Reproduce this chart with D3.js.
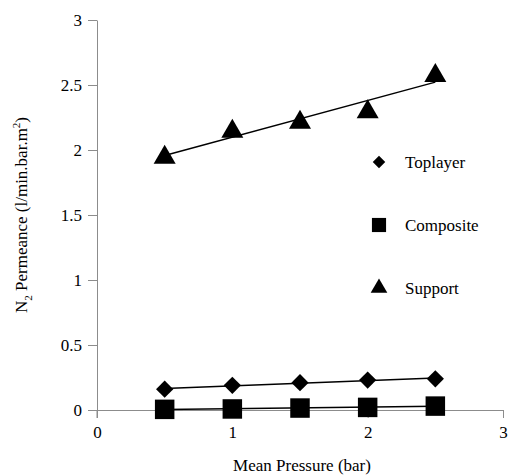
<!DOCTYPE html>
<html>
<head>
<meta charset="utf-8">
<script src="https://cdn.jsdelivr.net/npm/d3@7"></script>
</head>
<body style="margin:0">
<script>
const pressure = [0.5, 1, 1.5, 2, 2.5];
const toplayer = [0.16, 0.19, 0.21, 0.23, 0.24];
const composite = [0.005, 0.008, 0.015, 0.02, 0.03];
const support = [1.95, 2.15, 2.22, 2.30, 2.58];
const seriesNames = ['Toplayer', 'Composite', 'Support'];
const xTicks = [0, 1, 2, 3];
const yTicks = [0, 0.5, 1, 1.5, 2, 2.5, 3];

const FONT = 'Liberation Serif';
const width = 508, height = 476;
const margin = {top: 20, right: 5, bottom: 66, left: 97};

const svg = d3.select('body').append('svg')
    .attr('width', width)
    .attr('height', height)
    .style('display', 'block')
    .style('font-family', FONT);

const x = d3.scaleLinear().domain([0, 3]).range([margin.left, width - margin.right]);
const y = d3.scaleLinear().domain([0, 3]).range([height - margin.bottom, margin.top]);

// axes
svg.append('g')
    .attr('transform', `translate(0,${y(0)})`)
    .call(d3.axisBottom(x).tickValues(xTicks).tickFormat(d3.format('')).tickSize(8).tickSizeOuter(0).tickPadding(8))
    .call(g => g.attr('font-family', FONT))
    .call(g => g.selectAll('path, line').attr('stroke', '#8c8c8c'))
    .call(g => g.selectAll('text').attr('font-size', 17).style('font-family', FONT).attr('fill', '#000'));

svg.append('g')
    .attr('transform', `translate(${x(0)},0)`)
    .call(d3.axisLeft(y).tickValues(yTicks).tickFormat(d3.format('')).tickSize(9).tickSizeOuter(0).tickPadding(6))
    .call(g => g.attr('font-family', FONT))
    .call(g => g.selectAll('path, line').attr('stroke', '#8c8c8c'))
    .call(g => g.selectAll('text').attr('font-size', 17).style('font-family', FONT).attr('fill', '#000'));

// y axis runs a little below zero in the original
svg.append('line')
    .attr('x1', x(0)).attr('x2', x(0))
    .attr('y1', y(0)).attr('y2', y(0) + 8)
    .attr('stroke', '#8c8c8c');

// axis titles
svg.append('text')
    .attr('x', (x(0) + x(3)) / 2 + 2)
    .attr('y', height - 5)
    .attr('text-anchor', 'middle')
    .style('font-family', FONT)
    .attr('font-size', 17)
    .text('Mean Pressure (bar)');

const yt = svg.append('text')
    .attr('transform', `translate(27,${(y(0) + y(3)) / 2}) rotate(-90)`)
    .attr('text-anchor', 'middle')
    .style('font-family', FONT)
    .attr('font-size', 17);
yt.append('tspan').text('N');
yt.append('tspan').attr('font-size', 11).attr('dy', 5).text('2');
yt.append('tspan').attr('dy', -5).text(' Permeance (l/min.bar.m');
yt.append('tspan').attr('font-size', 11).attr('dy', -7).text('2');
yt.append('tspan').attr('dy', 7).text(')');

// trendlines (least squares fit)
function fit(ys) {
    const mx = d3.mean(pressure), my = d3.mean(ys);
    const b = d3.sum(pressure, (p, i) => (p - mx) * (ys[i] - my)) / d3.sum(pressure, p => (p - mx) ** 2);
    return p => my + b * (p - mx);
}

const data = [toplayer, composite, support];
const symbols = [d3.symbolDiamond2, d3.symbolSquare, d3.symbolTriangle];
const sizes = [190, 380, 210];

data.forEach(ys => {
    const f = fit(ys);
    const ends = [pressure[0], pressure[pressure.length - 1]];
    svg.append('line')
        .attr('x1', x(ends[0])).attr('y1', y(f(ends[0])))
        .attr('x2', x(ends[1])).attr('y2', y(f(ends[1])))
        .attr('stroke', '#000')
        .attr('stroke-width', 1.5);
});

data.forEach((ys, k) => {
    svg.append('g').selectAll('path')
        .data(ys)
        .join('path')
        .attr('transform', (d, i) => `translate(${x(pressure[i])},${y(d) + (k === 2 ? 1 : 0)})`)
        .attr('d', d3.symbol().type(symbols[k]).size(sizes[k]))
        .attr('fill', '#000');
});

// legend
const legend = svg.append('g').selectAll('g')
    .data(seriesNames)
    .join('g')
    .attr('transform', (d, i) => `translate(379,${162 + i * 63})`);

legend.append('path')
    .attr('d', (d, i) => d3.symbol().type(symbols[i]).size([100, 200, 120][i])())
    .attr('fill', '#000');

legend.append('text')
    .attr('x', 26)
    .attr('y', 6)
    .style('font-family', FONT)
    .attr('font-size', 17)
    .text(d => d);
</script>
</body>
</html>
